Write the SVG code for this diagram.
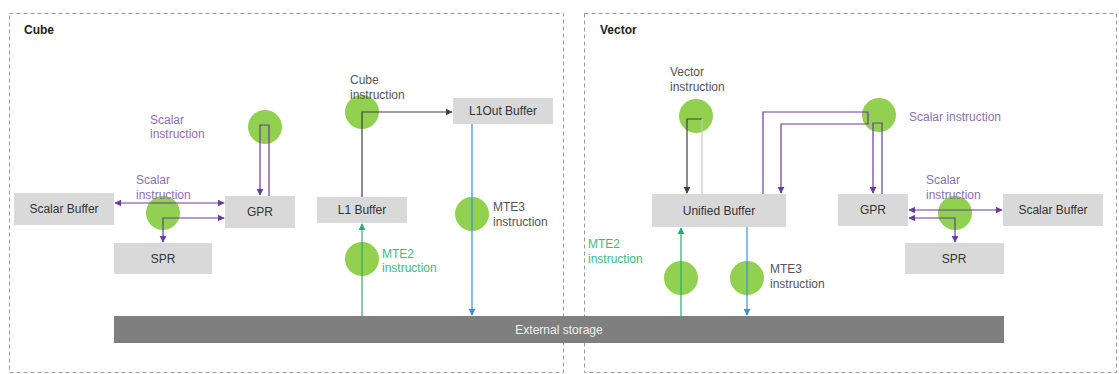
<svg xmlns="http://www.w3.org/2000/svg" width="1119" height="374" viewBox="0 0 1119 374">
<style>
.frame{fill:none;stroke:#9a9a9a;stroke-width:1;stroke-dasharray:4 3}
.title{font-family:"Liberation Sans",Arial,sans-serif;font-size:12px;font-weight:bold;fill:#222}
.box{fill:#d9d9d9}
.bt{font-family:"Liberation Sans",Arial,sans-serif;font-size:12px;fill:#333;text-anchor:middle}
.dot{fill:#92d050}
.lbl{font-family:"Liberation Sans",Arial,sans-serif;font-size:12px}
.gray{fill:#555}
.purple{fill:#8b70b8}
.green{fill:#3dbb7a}
.lp{fill:none;stroke:#6a3d9a;stroke-width:1.2}
.lk{fill:none;stroke:#404040;stroke-width:1.2}
.ll{fill:none;stroke:#c8c8c8;stroke-width:1.2}
.lg{fill:none;stroke:#2eaa6a;stroke-width:1.2}
.lb{fill:none;stroke:#3b8fd8;stroke-width:1.2}
</style>
<defs>
<marker id="ap" viewBox="0 0 10 10" refX="9" refY="5" markerWidth="6" markerHeight="6" orient="auto-start-reverse"><path d="M0,0 L10,5 L0,10 z" fill="#6a3d9a"/></marker>
<marker id="ak" viewBox="0 0 10 10" refX="9" refY="5" markerWidth="6" markerHeight="6" orient="auto-start-reverse"><path d="M0,0 L10,5 L0,10 z" fill="#404040"/></marker>
<marker id="ag" viewBox="0 0 10 10" refX="9" refY="5" markerWidth="6" markerHeight="6" orient="auto-start-reverse"><path d="M0,0 L10,5 L0,10 z" fill="#2eaa6a"/></marker>
<marker id="ab" viewBox="0 0 10 10" refX="9" refY="5" markerWidth="6" markerHeight="6" orient="auto-start-reverse"><path d="M0,0 L10,5 L0,10 z" fill="#3b8fd8"/></marker>
</defs>

<g id="frames">
<rect class="frame" x="9.5" y="13.5" width="554" height="359"/>
<rect class="frame" x="584.5" y="13.5" width="532" height="359"/>
<text class="title" x="24" y="34">Cube</text>
<text class="title" x="600" y="34">Vector</text>
</g>

<g id="external-storage">
<rect x="114" y="316" width="890" height="27" fill="#7f7f7f"/>
<text class="bt" x="559" y="334" style="fill:#f0f0f0">External storage</text>
</g>

<g id="cube-scalar-buffer"><rect class="box" x="14" y="193" width="100" height="32"/><text class="bt" x="64" y="213">Scalar Buffer</text></g>
<g id="cube-gpr"><rect class="box" x="225" y="196" width="70" height="32"/><text class="bt" x="260" y="216">GPR</text></g>
<g id="cube-spr"><rect class="box" x="114" y="243" width="98" height="31"/><text class="bt" x="163" y="263">SPR</text></g>
<g id="l1-buffer"><rect class="box" x="317" y="197" width="90" height="26"/><text class="bt" x="362" y="214">L1 Buffer</text></g>
<g id="l1out-buffer"><rect class="box" x="453" y="98" width="100" height="26"/><text class="bt" x="503" y="115">L1Out Buffer</text></g>
<g id="unified-buffer"><rect class="box" x="652" y="194" width="134" height="33"/><text class="bt" x="719" y="215">Unified Buffer</text></g>
<g id="vector-gpr"><rect class="box" x="838" y="194" width="70" height="32"/><text class="bt" x="873" y="214">GPR</text></g>
<g id="vector-scalar-buffer"><rect class="box" x="1003" y="194" width="100" height="32"/><text class="bt" x="1053" y="214">Scalar Buffer</text></g>
<g id="vector-spr"><rect class="box" x="905" y="243" width="99" height="31"/><text class="bt" x="954" y="263">SPR</text></g>

<g id="instruction-dots">
<circle class="dot" cx="265" cy="127" r="17"/>
<circle class="dot" cx="163" cy="213" r="17"/>
<circle class="dot" cx="362" cy="112" r="17"/>
<circle class="dot" cx="362" cy="259" r="17"/>
<circle class="dot" cx="472" cy="214" r="17"/>
<circle class="dot" cx="696" cy="116" r="17"/>
<circle class="dot" cx="879" cy="115" r="17"/>
<circle class="dot" cx="955" cy="213" r="17"/>
<circle class="dot" cx="681" cy="278" r="17"/>
<circle class="dot" cx="747" cy="278" r="17"/>
</g>

<g id="connectors">
<path class="lp" d="M269,196 V125 H260 V195" marker-end="url(#ap)"/>
<path class="lp" d="M115,203 H224" marker-start="url(#ap)" marker-end="url(#ap)"/>
<path class="lp" d="M224,218 H163 V242" marker-start="url(#ap)" marker-end="url(#ap)"/>
<path class="lk" d="M362,197 V112 H452" marker-end="url(#ak)"/>
<path class="lg" d="M362,316 V224" marker-end="url(#ag)"/>
<path class="lb" d="M472,124 V315" marker-end="url(#ab)"/>
<path class="lk" d="M702,119 H687 V193" marker-end="url(#ak)"/>
<path class="ll" d="M702,119 V194"/>
<path class="lp" d="M763,194 V112 H868 V124 H781 V193" marker-end="url(#ap)"/>
<path class="lp" d="M882,194 V123 H873 V193" marker-end="url(#ap)"/>
<path class="lp" d="M909,210 H1002" marker-start="url(#ap)" marker-end="url(#ap)"/>
<path class="lp" d="M909,218 H955 V242" marker-start="url(#ap)" marker-end="url(#ap)"/>
<path class="lg" d="M681,316 V228" marker-end="url(#ag)"/>
<path class="lb" d="M747,227 V315" marker-end="url(#ab)"/>
</g>

<g id="labels">
<text class="lbl purple" x="150" y="124">Scalar</text>
<text class="lbl purple" x="150" y="138">instruction</text>
<text class="lbl purple" x="136" y="184">Scalar</text>
<text class="lbl purple" x="136" y="199">instruction</text>
<text class="lbl gray" x="350" y="84">Cube</text>
<text class="lbl gray" x="350" y="99">instruction</text>
<text class="lbl green" x="382" y="258">MTE2</text>
<text class="lbl green" x="382" y="272">instruction</text>
<text class="lbl gray" x="493" y="211">MTE3</text>
<text class="lbl gray" x="493" y="226">instruction</text>
<text class="lbl gray" x="670" y="76">Vector</text>
<text class="lbl gray" x="670" y="91">instruction</text>
<text class="lbl purple" x="909" y="121">Scalar instruction</text>
<text class="lbl purple" x="926" y="184">Scalar</text>
<text class="lbl purple" x="926" y="199">instruction</text>
<text class="lbl green" x="588" y="248">MTE2</text>
<text class="lbl green" x="588" y="263">instruction</text>
<text class="lbl gray" x="770" y="273">MTE3</text>
<text class="lbl gray" x="770" y="288">instruction</text>
</g>
</svg>
